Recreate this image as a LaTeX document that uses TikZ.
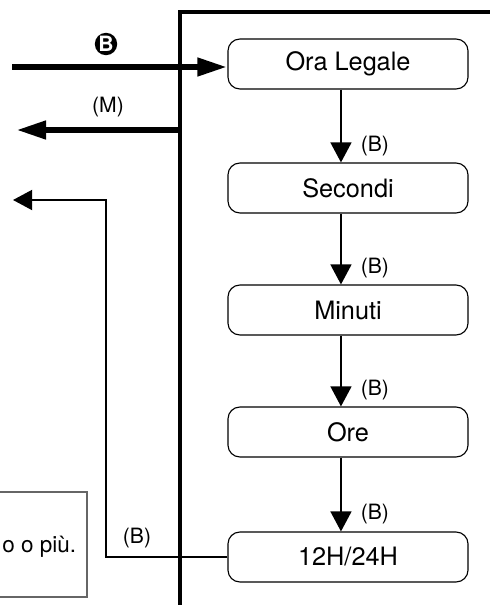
\documentclass[tikz,border=0pt]{standalone}
\usepackage{fontspec}
\setmainfont{TeX Gyre Heros}
\usetikzlibrary{arrows.meta}

\begin{document}
\begin{tikzpicture}[x=0.025cm,y=-0.025cm,
    box/.style={draw,rounded corners=0.3cm,line width=0.8pt,minimum width=6cm,minimum height=1.25cm,font=\fontsize{18}{20}\selectfont},
    lbl/.style={font=\fontsize{15}{17}\selectfont},
    next/.style={line width=1.5pt,-{Triangle[length=0.5cm,width=0.52cm]}},
    thick arrow/.style={line width=4.6pt,-{Triangle[length=0.75cm,width=0.43cm]}},
    thin arrow/.style={line width=1.5pt,-{Triangle[length=0.48cm,width=0.5cm]}}]
      \useasboundingbox (0,0) rectangle (490,605);
      \clip (0,0) rectangle (490,605);

      \path
      (348,64) node[box](ora) {Ora Legale}
      (348,188) node[box](sec) {Secondi}
      (348,310) node[box](min) {Minuti}
      (348,432) node[box](ore) {Ore}
      (348,557) node[box](h12) {12H/24H}
      ;

      \draw[line width=3.5pt] (490,12) -- (180,12) -- (180,605);

      \draw[next] ([xshift=-5pt]ora.south) -- node[lbl,pos=0.77,right=10pt] {(B)} ([xshift=-5pt]sec.north);
      \draw[next] ([xshift=-5pt]sec.south) -- node[lbl,pos=0.77,right=10pt] {(B)} ([xshift=-5pt]min.north);
      \draw[next] ([xshift=-5pt]min.south) -- node[lbl,pos=0.77,right=10pt] {(B)} ([xshift=-5pt]ore.north);
      \draw[next] ([xshift=-5pt]ore.south) -- node[lbl,pos=0.77,right=10pt] {(B)} ([xshift=-5pt]h12.north);

      \path
      (12,67) coordinate(bin)
      (180,130) coordinate(mout)
      (16,130) coordinate(mend)
      (106,200) coordinate(bend)
      (13,200) coordinate(bout)
      ;

      \draw[thick arrow] (bin) -- (bin -| ora.west);
      \draw[thick arrow] (mout) -- (mend);
      \draw[thin arrow] (h12.west) -| (bend) -- (bout);

      \node[circle,fill=black,text=white,inner sep=0pt,minimum size=0.56cm,font=\fontsize{15}{15}\selectfont\bfseries](bkey) at (106,44) {B};
      \node[lbl](mkey) at (108,107) {(M)};
      \node[lbl](bback) at (137,538) {(B)};

      % note box, cut by the page edge
      \draw[gray!80!black,line width=0.8pt] (-20,492) rectangle (87,597);
      \node[anchor=base west,inner sep=0pt,font=\fontsize{16}{18}\selectfont](note) at (2,552) {o o più.};
\end{tikzpicture}
\end{document}
